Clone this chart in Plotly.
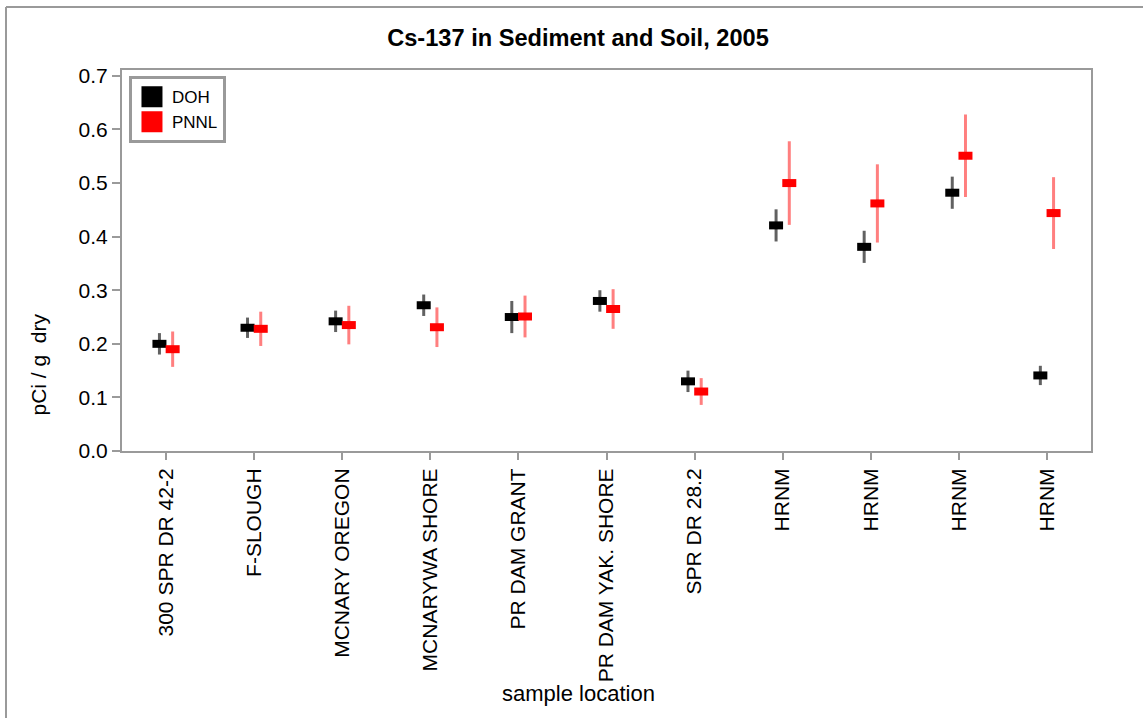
import plotly.graph_objects as go

# Sample locations (x categories)
locations = ["300 SPR DR 42-2", "F-SLOUGH", "MCNARY OREGON", "MCNARYWA SHORE",
             "PR DAM GRANT", "PR DAM YAK. SHORE", "SPR DR 28.2",
             "HRNM", "HRNM", "HRNM", "HRNM"]

# Cs-137 results, pCi/g dry
doh_values = [0.20, 0.23, 0.242, 0.272, 0.250, 0.280, 0.130, 0.421, 0.381, 0.482, 0.141]
doh_errors = [0.020, 0.019, 0.020, 0.020, 0.030, 0.020, 0.020, 0.030, 0.030, 0.030, 0.018]

pnnl_values = [0.190, 0.228, 0.235, 0.231, 0.251, 0.265, 0.111, 0.500, 0.462, 0.551, 0.444]
pnnl_errors = [0.033, 0.032, 0.036, 0.037, 0.039, 0.037, 0.025, 0.078, 0.073, 0.077, 0.067]

y_ticks = [0.0, 0.1, 0.2, 0.3, 0.4, 0.5, 0.6, 0.7]

FONT = "Liberation Sans, Arial, sans-serif"
AXIS_GRAY = "#9a9a9a"
OFFSET = 0.075  # side-by-side dodge of the two labs

idx = list(range(len(locations)))

fig = go.Figure()

series = [
    ("DOH", doh_values, doh_errors, "#000000", "rgba(0,0,0,0.62)", -OFFSET),
    ("PNNL", pnnl_values, pnnl_errors, "#ff0000", "rgba(255,0,0,0.5)", OFFSET),
]

for name, vals, errs, color, err_color, dx in series:
    fig.add_trace(go.Scatter(
        x=[i + dx for i in idx], y=vals, mode="markers", name=name,
        showlegend=False,
        marker=dict(symbol="line-ew", size=10, color=color,
                    line=dict(color=color, width=8)),
        error_y=dict(type="data", array=errs, visible=True,
                     color=err_color, thickness=3, width=0),
    ))

# Legend entries drawn as solid squares
for name, vals, errs, color, err_color, dx in series:
    fig.add_trace(go.Scatter(
        x=[None], y=[None], mode="markers", name=name, showlegend=True,
        marker=dict(symbol="square", size=16, color=color,
                    line=dict(color=color, width=5)),
    ))

fig.update_layout(
    width=1143, height=718,
    margin=dict(l=122, r=52, t=70, b=267),
    paper_bgcolor="white", plot_bgcolor="white",
    font=dict(family=FONT, size=21, color="#000000"),
    title=dict(text="<b>Cs-137 in Sediment and Soil, 2005</b>",
               font=dict(family=FONT, size=23.6, color="#000000"),
               xref="container", yref="container",
               x=578 / 1143, y=1 - 38 / 718, xanchor="center", yanchor="middle"),
    showlegend=True,
    legend=dict(x=0.0072, y=0.984, xanchor="left", yanchor="top",
                bgcolor="white", bordercolor=AXIS_GRAY, borderwidth=3,
                font=dict(family=FONT, size=17, color="#000000"),
                tracegroupgap=0, itemsizing="trace",
                entrywidth=62, entrywidthmode="pixels"),
    xaxis=dict(
        range=[-0.5, 10.5], tickmode="array", tickvals=idx, ticktext=locations,
        tickangle=-90, showgrid=False, zeroline=False,
        showline=True, linecolor=AXIS_GRAY, linewidth=2, mirror=True,
        ticks="outside", ticklen=7, tickwidth=2, tickcolor=AXIS_GRAY,
        tickfont=dict(family=FONT, size=21, color="#000000"),
    ),
    yaxis=dict(
        range=[0, 0.711], tickmode="array", tickvals=y_ticks,
        ticktext=[f"{v:.1f}" for v in y_ticks],
        showgrid=False, zeroline=False,
        showline=True, linecolor=AXIS_GRAY, linewidth=2, mirror=True,
        ticks="outside", ticklen=8, tickwidth=2, tickcolor=AXIS_GRAY,
        tickfont=dict(family=FONT, size=21, color="#000000"),
    ),
    annotations=[
        dict(text="sample location", xref="paper", yref="paper",
             x=(578 - 122) / 969, y=(451 - 693) / 381,
             xanchor="center", yanchor="middle", showarrow=False,
             font=dict(family=FONT, size=22, color="#000000")),
        dict(text="pCi / g  dry", xref="paper", yref="paper",
             x=(37.5 - 122) / 969, y=(451 - 365) / 381, textangle=-90,
             xanchor="center", yanchor="middle", showarrow=False,
             font=dict(family=FONT, size=21, color="#000000")),
    ],
    shapes=[
        # outer frame, top and left edges
        dict(type="line", xref="paper", yref="paper",
             x0=(6 - 122) / 969, x1=(1143 - 122) / 969,
             y0=1 + (70 - 7) / 381, y1=1 + (70 - 7) / 381,
             line=dict(color=AXIS_GRAY, width=2)),
        dict(type="line", xref="paper", yref="paper",
             x0=(6 - 122) / 969, x1=(6 - 122) / 969,
             y0=1 + (70 - 7) / 381, y1=(451 - 718) / 381,
             line=dict(color=AXIS_GRAY, width=2)),
    ],
)

fig.write_html("out.html")
